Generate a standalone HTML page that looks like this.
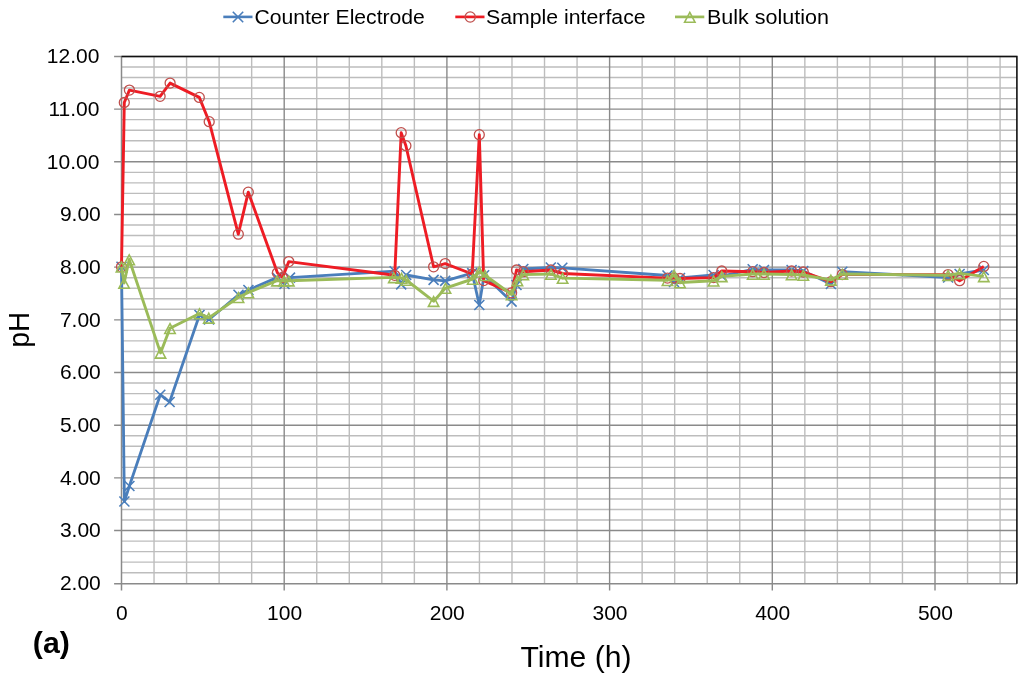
<!DOCTYPE html>
<html><head><meta charset="utf-8"><style>
html,body{margin:0;padding:0;background:#fff;width:1024px;height:680px;overflow:hidden}
svg{display:block;will-change:transform}
text{font-family:"Liberation Sans",sans-serif;fill:#000}
</style></head><body>
<svg width="1024" height="680" viewBox="0 0 1024 680">
<rect width="1024" height="680" fill="#fff"/>
<line x1="121.5" y1="572.70" x2="1016.9" y2="572.70" stroke="#bdbdbd" stroke-width="1.4"/>
<line x1="121.5" y1="562.17" x2="1016.9" y2="562.17" stroke="#bdbdbd" stroke-width="1.4"/>
<line x1="121.5" y1="551.63" x2="1016.9" y2="551.63" stroke="#bdbdbd" stroke-width="1.4"/>
<line x1="121.5" y1="541.10" x2="1016.9" y2="541.10" stroke="#bdbdbd" stroke-width="1.4"/>
<line x1="121.5" y1="520.02" x2="1016.9" y2="520.02" stroke="#bdbdbd" stroke-width="1.4"/>
<line x1="121.5" y1="509.49" x2="1016.9" y2="509.49" stroke="#bdbdbd" stroke-width="1.4"/>
<line x1="121.5" y1="498.95" x2="1016.9" y2="498.95" stroke="#bdbdbd" stroke-width="1.4"/>
<line x1="121.5" y1="488.42" x2="1016.9" y2="488.42" stroke="#bdbdbd" stroke-width="1.4"/>
<line x1="121.5" y1="467.34" x2="1016.9" y2="467.34" stroke="#bdbdbd" stroke-width="1.4"/>
<line x1="121.5" y1="456.81" x2="1016.9" y2="456.81" stroke="#bdbdbd" stroke-width="1.4"/>
<line x1="121.5" y1="446.27" x2="1016.9" y2="446.27" stroke="#bdbdbd" stroke-width="1.4"/>
<line x1="121.5" y1="435.74" x2="1016.9" y2="435.74" stroke="#bdbdbd" stroke-width="1.4"/>
<line x1="121.5" y1="414.66" x2="1016.9" y2="414.66" stroke="#bdbdbd" stroke-width="1.4"/>
<line x1="121.5" y1="404.13" x2="1016.9" y2="404.13" stroke="#bdbdbd" stroke-width="1.4"/>
<line x1="121.5" y1="393.59" x2="1016.9" y2="393.59" stroke="#bdbdbd" stroke-width="1.4"/>
<line x1="121.5" y1="383.06" x2="1016.9" y2="383.06" stroke="#bdbdbd" stroke-width="1.4"/>
<line x1="121.5" y1="361.98" x2="1016.9" y2="361.98" stroke="#bdbdbd" stroke-width="1.4"/>
<line x1="121.5" y1="351.45" x2="1016.9" y2="351.45" stroke="#bdbdbd" stroke-width="1.4"/>
<line x1="121.5" y1="340.91" x2="1016.9" y2="340.91" stroke="#bdbdbd" stroke-width="1.4"/>
<line x1="121.5" y1="330.38" x2="1016.9" y2="330.38" stroke="#bdbdbd" stroke-width="1.4"/>
<line x1="121.5" y1="309.30" x2="1016.9" y2="309.30" stroke="#bdbdbd" stroke-width="1.4"/>
<line x1="121.5" y1="298.77" x2="1016.9" y2="298.77" stroke="#bdbdbd" stroke-width="1.4"/>
<line x1="121.5" y1="288.23" x2="1016.9" y2="288.23" stroke="#bdbdbd" stroke-width="1.4"/>
<line x1="121.5" y1="277.70" x2="1016.9" y2="277.70" stroke="#bdbdbd" stroke-width="1.4"/>
<line x1="121.5" y1="256.62" x2="1016.9" y2="256.62" stroke="#bdbdbd" stroke-width="1.4"/>
<line x1="121.5" y1="246.09" x2="1016.9" y2="246.09" stroke="#bdbdbd" stroke-width="1.4"/>
<line x1="121.5" y1="235.55" x2="1016.9" y2="235.55" stroke="#bdbdbd" stroke-width="1.4"/>
<line x1="121.5" y1="225.02" x2="1016.9" y2="225.02" stroke="#bdbdbd" stroke-width="1.4"/>
<line x1="121.5" y1="203.94" x2="1016.9" y2="203.94" stroke="#bdbdbd" stroke-width="1.4"/>
<line x1="121.5" y1="193.41" x2="1016.9" y2="193.41" stroke="#bdbdbd" stroke-width="1.4"/>
<line x1="121.5" y1="182.87" x2="1016.9" y2="182.87" stroke="#bdbdbd" stroke-width="1.4"/>
<line x1="121.5" y1="172.34" x2="1016.9" y2="172.34" stroke="#bdbdbd" stroke-width="1.4"/>
<line x1="121.5" y1="151.26" x2="1016.9" y2="151.26" stroke="#bdbdbd" stroke-width="1.4"/>
<line x1="121.5" y1="140.73" x2="1016.9" y2="140.73" stroke="#bdbdbd" stroke-width="1.4"/>
<line x1="121.5" y1="130.19" x2="1016.9" y2="130.19" stroke="#bdbdbd" stroke-width="1.4"/>
<line x1="121.5" y1="119.66" x2="1016.9" y2="119.66" stroke="#bdbdbd" stroke-width="1.4"/>
<line x1="121.5" y1="98.58" x2="1016.9" y2="98.58" stroke="#bdbdbd" stroke-width="1.4"/>
<line x1="121.5" y1="88.05" x2="1016.9" y2="88.05" stroke="#bdbdbd" stroke-width="1.4"/>
<line x1="121.5" y1="77.51" x2="1016.9" y2="77.51" stroke="#bdbdbd" stroke-width="1.4"/>
<line x1="121.5" y1="66.98" x2="1016.9" y2="66.98" stroke="#bdbdbd" stroke-width="1.4"/>
<line x1="154.04" y1="56.5" x2="154.04" y2="583.7" stroke="#bdbdbd" stroke-width="1.4"/>
<line x1="186.58" y1="56.5" x2="186.58" y2="583.7" stroke="#bdbdbd" stroke-width="1.4"/>
<line x1="219.12" y1="56.5" x2="219.12" y2="583.7" stroke="#bdbdbd" stroke-width="1.4"/>
<line x1="251.66" y1="56.5" x2="251.66" y2="583.7" stroke="#bdbdbd" stroke-width="1.4"/>
<line x1="316.74" y1="56.5" x2="316.74" y2="583.7" stroke="#bdbdbd" stroke-width="1.4"/>
<line x1="349.28" y1="56.5" x2="349.28" y2="583.7" stroke="#bdbdbd" stroke-width="1.4"/>
<line x1="381.82" y1="56.5" x2="381.82" y2="583.7" stroke="#bdbdbd" stroke-width="1.4"/>
<line x1="414.36" y1="56.5" x2="414.36" y2="583.7" stroke="#bdbdbd" stroke-width="1.4"/>
<line x1="479.44" y1="56.5" x2="479.44" y2="583.7" stroke="#bdbdbd" stroke-width="1.4"/>
<line x1="511.98" y1="56.5" x2="511.98" y2="583.7" stroke="#bdbdbd" stroke-width="1.4"/>
<line x1="544.52" y1="56.5" x2="544.52" y2="583.7" stroke="#bdbdbd" stroke-width="1.4"/>
<line x1="577.06" y1="56.5" x2="577.06" y2="583.7" stroke="#bdbdbd" stroke-width="1.4"/>
<line x1="642.14" y1="56.5" x2="642.14" y2="583.7" stroke="#bdbdbd" stroke-width="1.4"/>
<line x1="674.68" y1="56.5" x2="674.68" y2="583.7" stroke="#bdbdbd" stroke-width="1.4"/>
<line x1="707.22" y1="56.5" x2="707.22" y2="583.7" stroke="#bdbdbd" stroke-width="1.4"/>
<line x1="739.76" y1="56.5" x2="739.76" y2="583.7" stroke="#bdbdbd" stroke-width="1.4"/>
<line x1="804.84" y1="56.5" x2="804.84" y2="583.7" stroke="#bdbdbd" stroke-width="1.4"/>
<line x1="837.38" y1="56.5" x2="837.38" y2="583.7" stroke="#bdbdbd" stroke-width="1.4"/>
<line x1="869.92" y1="56.5" x2="869.92" y2="583.7" stroke="#bdbdbd" stroke-width="1.4"/>
<line x1="902.46" y1="56.5" x2="902.46" y2="583.7" stroke="#bdbdbd" stroke-width="1.4"/>
<line x1="967.54" y1="56.5" x2="967.54" y2="583.7" stroke="#bdbdbd" stroke-width="1.4"/>
<line x1="1000.08" y1="56.5" x2="1000.08" y2="583.7" stroke="#bdbdbd" stroke-width="1.4"/>
<line x1="114.1" y1="530.56" x2="1016.9" y2="530.56" stroke="#8a8a8a" stroke-width="1.4"/>
<line x1="114.1" y1="477.88" x2="1016.9" y2="477.88" stroke="#8a8a8a" stroke-width="1.4"/>
<line x1="114.1" y1="425.20" x2="1016.9" y2="425.20" stroke="#8a8a8a" stroke-width="1.4"/>
<line x1="114.1" y1="372.52" x2="1016.9" y2="372.52" stroke="#8a8a8a" stroke-width="1.4"/>
<line x1="114.1" y1="319.84" x2="1016.9" y2="319.84" stroke="#8a8a8a" stroke-width="1.4"/>
<line x1="114.1" y1="267.16" x2="1016.9" y2="267.16" stroke="#8a8a8a" stroke-width="1.4"/>
<line x1="114.1" y1="214.48" x2="1016.9" y2="214.48" stroke="#8a8a8a" stroke-width="1.4"/>
<line x1="114.1" y1="161.80" x2="1016.9" y2="161.80" stroke="#8a8a8a" stroke-width="1.4"/>
<line x1="114.1" y1="109.12" x2="1016.9" y2="109.12" stroke="#8a8a8a" stroke-width="1.4"/>
<line x1="284.20" y1="56.5" x2="284.20" y2="590.6" stroke="#8a8a8a" stroke-width="1.4"/>
<line x1="446.90" y1="56.5" x2="446.90" y2="590.6" stroke="#8a8a8a" stroke-width="1.4"/>
<line x1="609.60" y1="56.5" x2="609.60" y2="590.6" stroke="#8a8a8a" stroke-width="1.4"/>
<line x1="772.30" y1="56.5" x2="772.30" y2="590.6" stroke="#8a8a8a" stroke-width="1.4"/>
<line x1="935.00" y1="56.5" x2="935.00" y2="590.6" stroke="#8a8a8a" stroke-width="1.4"/>
<line x1="121.5" y1="56.5" x2="121.5" y2="590.6" stroke="#8a8a8a" stroke-width="1.5"/>
<line x1="114.1" y1="583.7" x2="1016.9" y2="583.7" stroke="#8a8a8a" stroke-width="1.5"/>
<line x1="114.1" y1="56.5" x2="1016.9" y2="56.5" stroke="#8a8a8a" stroke-width="1.4"/>
<polyline points="121.5,56.5 1016.9,56.5 1016.9,583.7" fill="none" stroke="#111" stroke-width="1.6"/>
<polyline points="121.5,266.8 124.4,501.5 129.4,486.0 160.3,394.7 169.6,402.0 199.5,315.0 209.0,319.5 238.5,294.7 248.4,290.0 277.0,277.6 284.5,284.0 290.0,277.6 394.7,271.2 401.2,284.4 406.2,275.0 433.6,279.9 445.2,280.9 472.2,273.1 479.3,305.0 484.1,275.3 511.6,301.6 516.5,285.0 523.3,269.0 550.8,267.5 562.3,267.8 667.5,275.5 674.0,282.0 680.0,278.0 713.6,275.0 721.8,276.0 752.7,269.3 764.0,270.0 791.6,270.0 803.3,271.0 830.9,284.0 842.3,271.7 948.1,277.5 959.6,274.0 983.8,270.0" fill="none" stroke="#4a7ebb" stroke-width="2.8" stroke-linejoin="round"/>
<path d="M116.5,261.8L126.5,271.8M116.5,271.8L126.5,261.8" stroke="#4a7ebb" stroke-width="1.6" fill="none"/>
<path d="M119.4,496.5L129.4,506.5M119.4,506.5L129.4,496.5" stroke="#4a7ebb" stroke-width="1.6" fill="none"/>
<path d="M124.4,481.0L134.4,491.0M124.4,491.0L134.4,481.0" stroke="#4a7ebb" stroke-width="1.6" fill="none"/>
<path d="M155.3,389.7L165.3,399.7M155.3,399.7L165.3,389.7" stroke="#4a7ebb" stroke-width="1.6" fill="none"/>
<path d="M164.6,397.0L174.6,407.0M164.6,407.0L174.6,397.0" stroke="#4a7ebb" stroke-width="1.6" fill="none"/>
<path d="M194.5,310.0L204.5,320.0M194.5,320.0L204.5,310.0" stroke="#4a7ebb" stroke-width="1.6" fill="none"/>
<path d="M204.0,314.5L214.0,324.5M204.0,324.5L214.0,314.5" stroke="#4a7ebb" stroke-width="1.6" fill="none"/>
<path d="M233.5,289.7L243.5,299.7M233.5,299.7L243.5,289.7" stroke="#4a7ebb" stroke-width="1.6" fill="none"/>
<path d="M243.4,285.0L253.4,295.0M243.4,295.0L253.4,285.0" stroke="#4a7ebb" stroke-width="1.6" fill="none"/>
<path d="M272.0,272.6L282.0,282.6M272.0,282.6L282.0,272.6" stroke="#4a7ebb" stroke-width="1.6" fill="none"/>
<path d="M279.5,279.0L289.5,289.0M279.5,289.0L289.5,279.0" stroke="#4a7ebb" stroke-width="1.6" fill="none"/>
<path d="M285.0,272.6L295.0,282.6M285.0,282.6L295.0,272.6" stroke="#4a7ebb" stroke-width="1.6" fill="none"/>
<path d="M389.7,266.2L399.7,276.2M389.7,276.2L399.7,266.2" stroke="#4a7ebb" stroke-width="1.6" fill="none"/>
<path d="M396.2,279.4L406.2,289.4M396.2,289.4L406.2,279.4" stroke="#4a7ebb" stroke-width="1.6" fill="none"/>
<path d="M401.2,270.0L411.2,280.0M401.2,280.0L411.2,270.0" stroke="#4a7ebb" stroke-width="1.6" fill="none"/>
<path d="M428.6,274.9L438.6,284.9M428.6,284.9L438.6,274.9" stroke="#4a7ebb" stroke-width="1.6" fill="none"/>
<path d="M440.2,275.9L450.2,285.9M440.2,285.9L450.2,275.9" stroke="#4a7ebb" stroke-width="1.6" fill="none"/>
<path d="M467.2,268.1L477.2,278.1M467.2,278.1L477.2,268.1" stroke="#4a7ebb" stroke-width="1.6" fill="none"/>
<path d="M474.3,300.0L484.3,310.0M474.3,310.0L484.3,300.0" stroke="#4a7ebb" stroke-width="1.6" fill="none"/>
<path d="M479.1,270.3L489.1,280.3M479.1,280.3L489.1,270.3" stroke="#4a7ebb" stroke-width="1.6" fill="none"/>
<path d="M506.6,296.6L516.6,306.6M506.6,306.6L516.6,296.6" stroke="#4a7ebb" stroke-width="1.6" fill="none"/>
<path d="M511.5,280.0L521.5,290.0M511.5,290.0L521.5,280.0" stroke="#4a7ebb" stroke-width="1.6" fill="none"/>
<path d="M518.3,264.0L528.3,274.0M518.3,274.0L528.3,264.0" stroke="#4a7ebb" stroke-width="1.6" fill="none"/>
<path d="M545.8,262.5L555.8,272.5M545.8,272.5L555.8,262.5" stroke="#4a7ebb" stroke-width="1.6" fill="none"/>
<path d="M557.3,262.8L567.3,272.8M557.3,272.8L567.3,262.8" stroke="#4a7ebb" stroke-width="1.6" fill="none"/>
<path d="M662.5,270.5L672.5,280.5M662.5,280.5L672.5,270.5" stroke="#4a7ebb" stroke-width="1.6" fill="none"/>
<path d="M669.0,277.0L679.0,287.0M669.0,287.0L679.0,277.0" stroke="#4a7ebb" stroke-width="1.6" fill="none"/>
<path d="M675.0,273.0L685.0,283.0M675.0,283.0L685.0,273.0" stroke="#4a7ebb" stroke-width="1.6" fill="none"/>
<path d="M708.6,270.0L718.6,280.0M708.6,280.0L718.6,270.0" stroke="#4a7ebb" stroke-width="1.6" fill="none"/>
<path d="M716.8,271.0L726.8,281.0M716.8,281.0L726.8,271.0" stroke="#4a7ebb" stroke-width="1.6" fill="none"/>
<path d="M747.7,264.3L757.7,274.3M747.7,274.3L757.7,264.3" stroke="#4a7ebb" stroke-width="1.6" fill="none"/>
<path d="M759.0,265.0L769.0,275.0M759.0,275.0L769.0,265.0" stroke="#4a7ebb" stroke-width="1.6" fill="none"/>
<path d="M786.6,265.0L796.6,275.0M786.6,275.0L796.6,265.0" stroke="#4a7ebb" stroke-width="1.6" fill="none"/>
<path d="M798.3,266.0L808.3,276.0M798.3,276.0L808.3,266.0" stroke="#4a7ebb" stroke-width="1.6" fill="none"/>
<path d="M825.9,279.0L835.9,289.0M825.9,289.0L835.9,279.0" stroke="#4a7ebb" stroke-width="1.6" fill="none"/>
<path d="M837.3,266.7L847.3,276.7M837.3,276.7L847.3,266.7" stroke="#4a7ebb" stroke-width="1.6" fill="none"/>
<path d="M943.1,272.5L953.1,282.5M943.1,282.5L953.1,272.5" stroke="#4a7ebb" stroke-width="1.6" fill="none"/>
<path d="M954.6,269.0L964.6,279.0M954.6,279.0L964.6,269.0" stroke="#4a7ebb" stroke-width="1.6" fill="none"/>
<path d="M978.8,265.0L988.8,275.0M978.8,275.0L988.8,265.0" stroke="#4a7ebb" stroke-width="1.6" fill="none"/>
<polyline points="121.5,266.8 124.3,102.5 129.4,90.1 160.1,96.3 170.1,83.1 199.3,97.4 209.2,121.7 238.3,234.2 248.3,192.2 277.4,272.8 282.5,277.5 288.8,261.6 394.7,275.3 401.2,132.7 405.9,145.7 433.6,266.8 445.2,263.6 472.2,274.0 479.3,134.7 483.7,280.6 511.6,292.8 516.5,270.0 523.3,271.7 550.9,270.0 562.6,273.5 667.5,278.1 674.0,278.0 680.0,278.5 713.6,277.6 721.8,271.0 752.7,271.7 764.0,272.5 791.6,271.0 803.3,272.0 830.9,281.7 842.3,274.6 948.1,274.6 959.6,280.7 983.8,266.4" fill="none" stroke="#ee1c24" stroke-width="2.9" stroke-linejoin="round"/>
<circle cx="121.5" cy="266.8" r="5.0" stroke="#c0504d" stroke-width="1.3" fill="none"/>
<circle cx="124.3" cy="102.5" r="5.0" stroke="#c0504d" stroke-width="1.3" fill="none"/>
<circle cx="129.4" cy="90.1" r="5.0" stroke="#c0504d" stroke-width="1.3" fill="none"/>
<circle cx="160.1" cy="96.3" r="5.0" stroke="#c0504d" stroke-width="1.3" fill="none"/>
<circle cx="170.1" cy="83.1" r="5.0" stroke="#c0504d" stroke-width="1.3" fill="none"/>
<circle cx="199.3" cy="97.4" r="5.0" stroke="#c0504d" stroke-width="1.3" fill="none"/>
<circle cx="209.2" cy="121.7" r="5.0" stroke="#c0504d" stroke-width="1.3" fill="none"/>
<circle cx="238.3" cy="234.2" r="5.0" stroke="#c0504d" stroke-width="1.3" fill="none"/>
<circle cx="248.3" cy="192.2" r="5.0" stroke="#c0504d" stroke-width="1.3" fill="none"/>
<circle cx="277.4" cy="272.8" r="5.0" stroke="#c0504d" stroke-width="1.3" fill="none"/>
<circle cx="282.5" cy="277.5" r="5.0" stroke="#c0504d" stroke-width="1.3" fill="none"/>
<circle cx="288.8" cy="261.6" r="5.0" stroke="#c0504d" stroke-width="1.3" fill="none"/>
<circle cx="394.7" cy="275.3" r="5.0" stroke="#c0504d" stroke-width="1.3" fill="none"/>
<circle cx="401.2" cy="132.7" r="5.0" stroke="#c0504d" stroke-width="1.3" fill="none"/>
<circle cx="405.9" cy="145.7" r="5.0" stroke="#c0504d" stroke-width="1.3" fill="none"/>
<circle cx="433.6" cy="266.8" r="5.0" stroke="#c0504d" stroke-width="1.3" fill="none"/>
<circle cx="445.2" cy="263.6" r="5.0" stroke="#c0504d" stroke-width="1.3" fill="none"/>
<circle cx="472.2" cy="274.0" r="5.0" stroke="#c0504d" stroke-width="1.3" fill="none"/>
<circle cx="479.3" cy="134.7" r="5.0" stroke="#c0504d" stroke-width="1.3" fill="none"/>
<circle cx="483.7" cy="280.6" r="5.0" stroke="#c0504d" stroke-width="1.3" fill="none"/>
<circle cx="511.6" cy="292.8" r="5.0" stroke="#c0504d" stroke-width="1.3" fill="none"/>
<circle cx="516.5" cy="270.0" r="5.0" stroke="#c0504d" stroke-width="1.3" fill="none"/>
<circle cx="523.3" cy="271.7" r="5.0" stroke="#c0504d" stroke-width="1.3" fill="none"/>
<circle cx="550.9" cy="270.0" r="5.0" stroke="#c0504d" stroke-width="1.3" fill="none"/>
<circle cx="562.6" cy="273.5" r="5.0" stroke="#c0504d" stroke-width="1.3" fill="none"/>
<circle cx="667.5" cy="278.1" r="5.0" stroke="#c0504d" stroke-width="1.3" fill="none"/>
<circle cx="674.0" cy="278.0" r="5.0" stroke="#c0504d" stroke-width="1.3" fill="none"/>
<circle cx="680.0" cy="278.5" r="5.0" stroke="#c0504d" stroke-width="1.3" fill="none"/>
<circle cx="713.6" cy="277.6" r="5.0" stroke="#c0504d" stroke-width="1.3" fill="none"/>
<circle cx="721.8" cy="271.0" r="5.0" stroke="#c0504d" stroke-width="1.3" fill="none"/>
<circle cx="752.7" cy="271.7" r="5.0" stroke="#c0504d" stroke-width="1.3" fill="none"/>
<circle cx="764.0" cy="272.5" r="5.0" stroke="#c0504d" stroke-width="1.3" fill="none"/>
<circle cx="791.6" cy="271.0" r="5.0" stroke="#c0504d" stroke-width="1.3" fill="none"/>
<circle cx="803.3" cy="272.0" r="5.0" stroke="#c0504d" stroke-width="1.3" fill="none"/>
<circle cx="830.9" cy="281.7" r="5.0" stroke="#c0504d" stroke-width="1.3" fill="none"/>
<circle cx="842.3" cy="274.6" r="5.0" stroke="#c0504d" stroke-width="1.3" fill="none"/>
<circle cx="948.1" cy="274.6" r="5.0" stroke="#c0504d" stroke-width="1.3" fill="none"/>
<circle cx="959.6" cy="280.7" r="5.0" stroke="#c0504d" stroke-width="1.3" fill="none"/>
<circle cx="983.8" cy="266.4" r="5.0" stroke="#c0504d" stroke-width="1.3" fill="none"/>
<polyline points="121.5,266.8 124.1,283.0 129.2,259.5 160.5,352.9 170.0,328.3 199.5,313.5 208.8,317.9 238.5,297.3 248.4,292.5 277.0,280.7 284.0,280.7 288.8,280.7 393.8,277.4 401.5,278.0 406.2,280.0 433.6,301.2 445.5,288.1 472.7,279.0 479.3,271.8 485.0,275.3 511.6,294.5 517.4,280.5 523.3,274.6 550.9,274.0 562.6,278.1 667.5,280.3 674.0,275.0 680.0,282.5 713.6,280.8 721.8,276.4 752.7,274.0 764.0,274.0 791.6,274.5 803.3,275.0 830.9,279.9 842.3,274.0 948.1,275.2 959.6,273.4 983.8,276.4" fill="none" stroke="#9bbb59" stroke-width="2.9" stroke-linejoin="round"/>
<path d="M121.5,262.2L126.7,272.0L116.3,272.0Z" stroke="#9bbb59" stroke-width="1.6" fill="none" stroke-linejoin="miter"/>
<path d="M124.1,278.4L129.3,288.2L118.9,288.2Z" stroke="#9bbb59" stroke-width="1.6" fill="none" stroke-linejoin="miter"/>
<path d="M129.2,254.9L134.4,264.7L124.0,264.7Z" stroke="#9bbb59" stroke-width="1.6" fill="none" stroke-linejoin="miter"/>
<path d="M160.5,348.3L165.7,358.1L155.3,358.1Z" stroke="#9bbb59" stroke-width="1.6" fill="none" stroke-linejoin="miter"/>
<path d="M170.0,323.7L175.2,333.5L164.8,333.5Z" stroke="#9bbb59" stroke-width="1.6" fill="none" stroke-linejoin="miter"/>
<path d="M199.5,308.9L204.7,318.7L194.3,318.7Z" stroke="#9bbb59" stroke-width="1.6" fill="none" stroke-linejoin="miter"/>
<path d="M208.8,313.3L214.0,323.1L203.6,323.1Z" stroke="#9bbb59" stroke-width="1.6" fill="none" stroke-linejoin="miter"/>
<path d="M238.5,292.7L243.7,302.5L233.3,302.5Z" stroke="#9bbb59" stroke-width="1.6" fill="none" stroke-linejoin="miter"/>
<path d="M248.4,287.9L253.6,297.7L243.2,297.7Z" stroke="#9bbb59" stroke-width="1.6" fill="none" stroke-linejoin="miter"/>
<path d="M277.0,276.1L282.2,285.9L271.8,285.9Z" stroke="#9bbb59" stroke-width="1.6" fill="none" stroke-linejoin="miter"/>
<path d="M284.0,276.1L289.2,285.9L278.8,285.9Z" stroke="#9bbb59" stroke-width="1.6" fill="none" stroke-linejoin="miter"/>
<path d="M288.8,276.1L294.0,285.9L283.6,285.9Z" stroke="#9bbb59" stroke-width="1.6" fill="none" stroke-linejoin="miter"/>
<path d="M393.8,272.8L399.0,282.6L388.6,282.6Z" stroke="#9bbb59" stroke-width="1.6" fill="none" stroke-linejoin="miter"/>
<path d="M401.5,273.4L406.7,283.2L396.3,283.2Z" stroke="#9bbb59" stroke-width="1.6" fill="none" stroke-linejoin="miter"/>
<path d="M406.2,275.4L411.4,285.2L401.0,285.2Z" stroke="#9bbb59" stroke-width="1.6" fill="none" stroke-linejoin="miter"/>
<path d="M433.6,296.6L438.8,306.4L428.4,306.4Z" stroke="#9bbb59" stroke-width="1.6" fill="none" stroke-linejoin="miter"/>
<path d="M445.5,283.5L450.7,293.3L440.3,293.3Z" stroke="#9bbb59" stroke-width="1.6" fill="none" stroke-linejoin="miter"/>
<path d="M472.7,274.4L477.9,284.2L467.5,284.2Z" stroke="#9bbb59" stroke-width="1.6" fill="none" stroke-linejoin="miter"/>
<path d="M479.3,267.2L484.5,277.0L474.1,277.0Z" stroke="#9bbb59" stroke-width="1.6" fill="none" stroke-linejoin="miter"/>
<path d="M485.0,270.7L490.2,280.5L479.8,280.5Z" stroke="#9bbb59" stroke-width="1.6" fill="none" stroke-linejoin="miter"/>
<path d="M511.6,289.9L516.8,299.7L506.4,299.7Z" stroke="#9bbb59" stroke-width="1.6" fill="none" stroke-linejoin="miter"/>
<path d="M517.4,275.9L522.6,285.7L512.2,285.7Z" stroke="#9bbb59" stroke-width="1.6" fill="none" stroke-linejoin="miter"/>
<path d="M523.3,270.0L528.5,279.8L518.1,279.8Z" stroke="#9bbb59" stroke-width="1.6" fill="none" stroke-linejoin="miter"/>
<path d="M550.9,269.4L556.1,279.2L545.7,279.2Z" stroke="#9bbb59" stroke-width="1.6" fill="none" stroke-linejoin="miter"/>
<path d="M562.6,273.5L567.8,283.3L557.4,283.3Z" stroke="#9bbb59" stroke-width="1.6" fill="none" stroke-linejoin="miter"/>
<path d="M667.5,275.7L672.7,285.5L662.3,285.5Z" stroke="#9bbb59" stroke-width="1.6" fill="none" stroke-linejoin="miter"/>
<path d="M674.0,270.4L679.2,280.2L668.8,280.2Z" stroke="#9bbb59" stroke-width="1.6" fill="none" stroke-linejoin="miter"/>
<path d="M680.0,277.9L685.2,287.7L674.8,287.7Z" stroke="#9bbb59" stroke-width="1.6" fill="none" stroke-linejoin="miter"/>
<path d="M713.6,276.2L718.8,286.0L708.4,286.0Z" stroke="#9bbb59" stroke-width="1.6" fill="none" stroke-linejoin="miter"/>
<path d="M721.8,271.8L727.0,281.6L716.6,281.6Z" stroke="#9bbb59" stroke-width="1.6" fill="none" stroke-linejoin="miter"/>
<path d="M752.7,269.4L757.9,279.2L747.5,279.2Z" stroke="#9bbb59" stroke-width="1.6" fill="none" stroke-linejoin="miter"/>
<path d="M764.0,269.4L769.2,279.2L758.8,279.2Z" stroke="#9bbb59" stroke-width="1.6" fill="none" stroke-linejoin="miter"/>
<path d="M791.6,269.9L796.8,279.7L786.4,279.7Z" stroke="#9bbb59" stroke-width="1.6" fill="none" stroke-linejoin="miter"/>
<path d="M803.3,270.4L808.5,280.2L798.1,280.2Z" stroke="#9bbb59" stroke-width="1.6" fill="none" stroke-linejoin="miter"/>
<path d="M830.9,275.3L836.1,285.1L825.7,285.1Z" stroke="#9bbb59" stroke-width="1.6" fill="none" stroke-linejoin="miter"/>
<path d="M842.3,269.4L847.5,279.2L837.1,279.2Z" stroke="#9bbb59" stroke-width="1.6" fill="none" stroke-linejoin="miter"/>
<path d="M948.1,270.6L953.3,280.4L942.9,280.4Z" stroke="#9bbb59" stroke-width="1.6" fill="none" stroke-linejoin="miter"/>
<path d="M959.6,268.8L964.8,278.6L954.4,278.6Z" stroke="#9bbb59" stroke-width="1.6" fill="none" stroke-linejoin="miter"/>
<path d="M983.8,271.8L989.0,281.6L978.6,281.6Z" stroke="#9bbb59" stroke-width="1.6" fill="none" stroke-linejoin="miter"/>
<line x1="223.3" y1="16.9" x2="252.5" y2="16.9" stroke="#4a7ebb" stroke-width="2.6"/>
<path d="M232.8,11.8L243.2,22.2M232.8,22.2L243.2,11.8" stroke="#4a7ebb" stroke-width="1.6" fill="none"/>
<text x="254.4" y="23.8" font-size="20.5" textLength="170.5" lengthAdjust="spacingAndGlyphs">Counter Electrode</text>
<line x1="455.3" y1="16.9" x2="484.5" y2="16.9" stroke="#ee1c24" stroke-width="2.7"/>
<circle cx="470.2" cy="17" r="5.1" stroke="#c0504d" stroke-width="1.3" fill="none"/>
<text x="486.1" y="23.8" font-size="20.5" textLength="159.5" lengthAdjust="spacingAndGlyphs">Sample interface</text>
<line x1="675" y1="16.9" x2="704.3" y2="16.9" stroke="#9bbb59" stroke-width="2.7"/>
<path d="M689.8,12.4L695.0,22.2L684.6,22.2Z" stroke="#9bbb59" stroke-width="1.6" fill="none" stroke-linejoin="miter"/>
<text x="706.9" y="23.8" font-size="20.5" textLength="122" lengthAdjust="spacingAndGlyphs">Bulk solution</text>
<text x="100.8" y="590.14" font-size="21" text-anchor="end">2.00</text>
<text x="100.8" y="537.46" font-size="21" text-anchor="end">3.00</text>
<text x="100.8" y="484.78" font-size="21" text-anchor="end">4.00</text>
<text x="100.8" y="432.10" font-size="21" text-anchor="end">5.00</text>
<text x="100.8" y="379.42" font-size="21" text-anchor="end">6.00</text>
<text x="100.8" y="326.74" font-size="21" text-anchor="end">7.00</text>
<text x="100.8" y="274.06" font-size="21" text-anchor="end">8.00</text>
<text x="100.8" y="221.38" font-size="21" text-anchor="end">9.00</text>
<text x="99.4" y="168.70" font-size="21" text-anchor="end">10.00</text>
<text x="99.4" y="116.02" font-size="21" text-anchor="end">11.00</text>
<text x="99.4" y="63.34" font-size="21" text-anchor="end">12.00</text>
<text x="121.90" y="620.1" font-size="21" text-anchor="middle">0</text>
<text x="284.60" y="620.1" font-size="21" text-anchor="middle">100</text>
<text x="447.30" y="620.1" font-size="21" text-anchor="middle">200</text>
<text x="610.00" y="620.1" font-size="21" text-anchor="middle">300</text>
<text x="772.70" y="620.1" font-size="21" text-anchor="middle">400</text>
<text x="935.40" y="620.1" font-size="21" text-anchor="middle">500</text>
<text x="0" y="0" font-size="30" transform="translate(28.9,347.4) rotate(-90)" textLength="35.6" lengthAdjust="spacingAndGlyphs">pH</text>
<text x="520.5" y="667" font-size="30" textLength="111" lengthAdjust="spacingAndGlyphs">Time (h)</text>
<text x="32.8" y="653.2" font-size="30" font-weight="bold" textLength="37" lengthAdjust="spacingAndGlyphs">(a)</text>
</svg>
</body></html>
